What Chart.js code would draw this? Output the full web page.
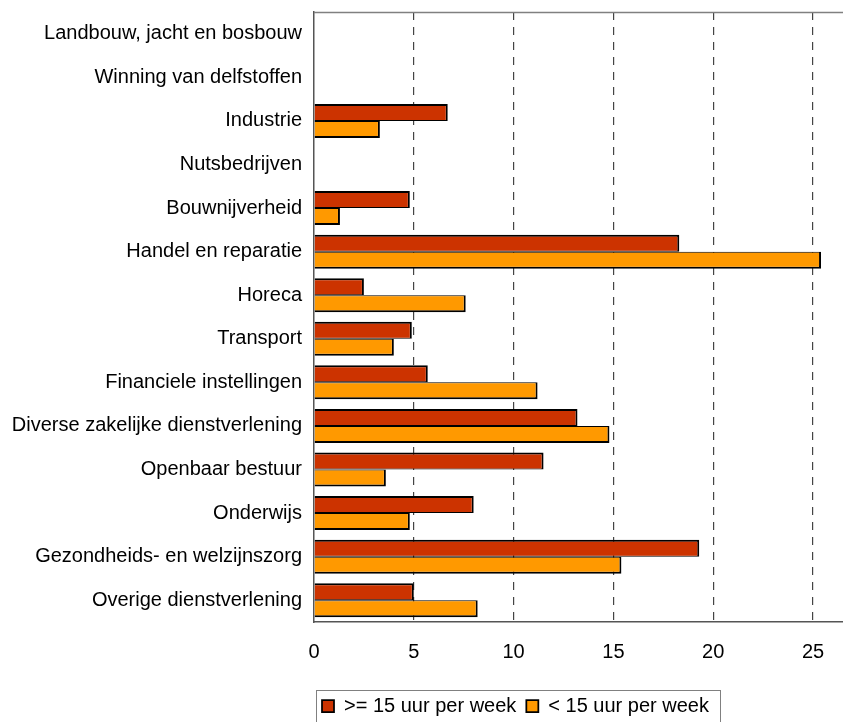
<!DOCTYPE html>
<html>
<head>
<meta charset="utf-8">
<script src="https://cdn.jsdelivr.net/npm/chart.js@4.4.0/dist/chart.umd.min.js"></script>
<style>
  html, body { margin: 0; padding: 0; background: #fff; }
  #wrap { width: 843px; height: 722px; }
</style>
</head>
<body>
<div id="wrap"><canvas id="myChart" width="843" height="722"></canvas></div>
<script>
var sectors = ['Landbouw, jacht en bosbouw', 'Winning van delfstoffen', 'Industrie', 'Nutsbedrijven',
    'Bouwnijverheid', 'Handel en reparatie', 'Horeca', 'Transport', 'Financiele instellingen',
    'Diverse zakelijke dienstverlening', 'Openbaar bestuur', 'Onderwijs',
    'Gezondheids- en welzijnszorg', 'Overige dienstverlening'];
var fulltime = [null, null, 6.7, null, 4.8, 18.3, 2.5, 4.9, 5.7, 13.2, 11.5, 8.0, 19.3, 5.0];
var parttime = [null, null, 3.3, null, 1.3, 25.4, 7.6, 4.0, 11.2, 14.8, 3.6, 4.8, 15.4, 8.2];
var xTicks = [0, 5, 10, 15, 20, 25];

Chart.defaults.font.family = '"Liberation Sans", Arial, sans-serif';
Chart.defaults.font.size = 20;
Chart.defaults.color = '#000';

// frame on top of plot area + box around legend
var framePlugin = {
    id: 'frame',
    afterLayout: function (chart) {
        var lg = chart.legend;
        lg.left = 312;
        lg.right = 843;
        lg.top += 4;
        lg.bottom += 4;
    },
    afterDraw: function (chart) {
        var c = chart.ctx, a = chart.chartArea;
        c.save();
        c.strokeStyle = '#808080';
        c.lineWidth = 1.5;
        c.beginPath();
        c.moveTo(a.left, a.top + 0.5);
        c.lineTo(a.right, a.top + 0.5);
        c.stroke();
        c.lineWidth = 1;
        c.strokeRect(316.5, 690.5, 404, 40);
        c.restore();
    }
};

var ctx = document.getElementById('myChart').getContext('2d');
var myChart = new Chart(ctx, {
    type: 'bar',
    data: {
        labels: sectors,
        datasets: [{
                label: '>= 15 uur per week',
                data: fulltime,
                backgroundColor: '#CC3300',
                borderColor: '#000',
                borderWidth: { top: 2, right: 2, bottom: 1, left: 2 }
            }, {
                label: '< 15 uur per week',
                data: parttime,
                backgroundColor: '#FF9900',
                borderColor: '#000',
                borderWidth: { top: 1, right: 2, bottom: 2, left: 2 }
            }]
    },
    options: {
        responsive: false,
        animation: false,
        indexAxis: 'y',
        layout: { padding: { top: 12, right: 0, left: 0, bottom: 0 } },
        datasets: { bar: { categoryPercentage: 0.78, barPercentage: 1.0 } },
        scales: {
            x: {
                min: 0,
                max: 26.5,
                afterBuildTicks: function (s) {
                    s.ticks = xTicks.map(function (v) { return { value: v }; });
                },
                afterFit: function (s) { s.height = 60; },
                grid: {
                    drawTicks: false,
                    color: function (c) { return c.tick && c.tick.value === 0 ? 'rgba(0,0,0,0)' : '#444'; },
                    lineWidth: 1.2
                },
                border: { display: true, color: '#555', width: 1.5, dash: [8, 7] },
                ticks: { padding: 18, color: '#000' }
            },
            y: {
                afterFit: function (s) {
                    s.width = 314;
                    s.paddingTop = 0;
                    s.paddingBottom = 0;
                },
                grid: { display: false, drawTicks: false },
                border: { display: true, color: '#555', width: 1.5 },
                ticks: { padding: 12, color: '#000' }
            }
        },
        plugins: {
            legend: {
                position: 'bottom',
                align: 'start',
                labels: { boxWidth: 12, boxHeight: 12, padding: 10, color: '#000' }
            },
            tooltip: { enabled: false }
        }
    },
    plugins: [framePlugin]
});
</script>
</body>
</html>
